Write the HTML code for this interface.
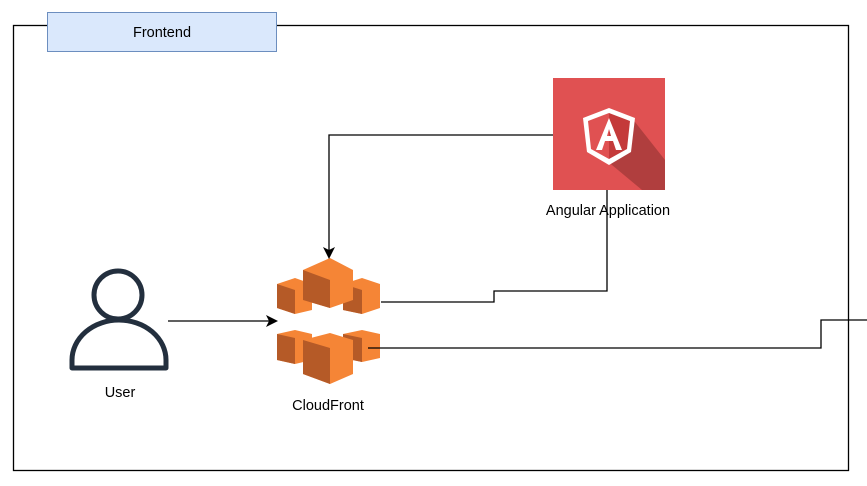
<!DOCTYPE html>
<html><head><style>body{margin:0;background:#fff}svg{display:block}text{font-family:"Liberation Sans",sans-serif;font-size:14.5px;fill:#000}</style></head><body>
<svg width="867" height="486" viewBox="0 0 867 486">
<defs><marker id="a" markerWidth="12" markerHeight="12" refX="10" refY="6" orient="auto" markerUnits="userSpaceOnUse"><path d="M0,0 L12,6 L0,12 L3,6 z" fill="#000"/></marker></defs>
<rect x="13.5" y="25.5" width="835" height="445" fill="none" stroke="#000" stroke-width="1.3"/>
<rect x="47.5" y="12.5" width="229" height="39" fill="#dae8fc" stroke="#6c8ebf"/>
<text x="162" y="37" text-anchor="middle">Frontend</text>
<rect x="553" y="78" width="112" height="112" fill="#e05152"/>
<polygon points="609,112 635,122 665,160 665,190 642,190 594,150" fill="#b03e3e"/>
<polygon points="609,108 583,118 587,152 609,165 631,152 635,118" fill="#fff"/>
<polygon points="609,113 588,121 591,149 609,159" fill="#e05152"/>
<polygon points="609,113 630,121 627,149 609,159" fill="#c43a3a"/>
<path d="M609,118 L596,150 L602,150 L605,141 L613,141 L616,150 L622,150 Z M607,136 L609,129 L611,136 Z" fill="#fff"/>
<text x="608" y="215" text-anchor="middle">Angular Application</text>
<circle cx="118" cy="295" r="24" fill="none" stroke="#232f3e" stroke-width="5"/>
<path d="M72,368 L72,360 A47,40 0 0 1 166,360 L166,368 Z" fill="none" stroke="#232f3e" stroke-width="5" stroke-linejoin="round"/>
<text x="120" y="397" text-anchor="middle">User</text>
<g>
<polygon points="277,284 295,278 312,284 312,310 295,314 277,308" fill="#f58536"/>
<polygon points="277,284 295,290 295,314 277,308" fill="#b55a27"/>
<polygon points="343,284 362,278 380,284 380,308 362,314 343,310" fill="#f58536"/>
<polygon points="343,284 362,290 362,314 343,310" fill="#b55a27"/>
<polygon points="303,270 330,258 353,270 353,300 330,308 303,300" fill="#f58536"/>
<polygon points="303,270 330,280 330,308 303,300" fill="#b55a27"/>
<polygon points="277,334 295,330 312,334 312,360 295,364 277,360" fill="#f58536"/>
<polygon points="277,334 295,338 295,364 277,360" fill="#b55a27"/>
<polygon points="343,334 362,330 380,334 380,358 362,362 343,358" fill="#f58536"/>
<polygon points="343,334 362,338 362,362 343,358" fill="#b55a27"/>
<polygon points="303,340 330,333 353,340 353,374 330,384 303,374" fill="#f58536"/>
<polygon points="303,340 330,348 330,384 303,374" fill="#b55a27"/>
</g>
<text x="328" y="410" text-anchor="middle">CloudFront</text>
<g fill="none" stroke="#000" stroke-width="1.3">
<path d="M168,321 H276" marker-end="url(#a)"/>
<path d="M553,135 H329 V257" marker-end="url(#a)"/>
<path d="M607,190 V291 H494 V302 H381"/>
<path d="M368,348 H821 V320 H867"/>
</g>
</svg>
</body></html>
